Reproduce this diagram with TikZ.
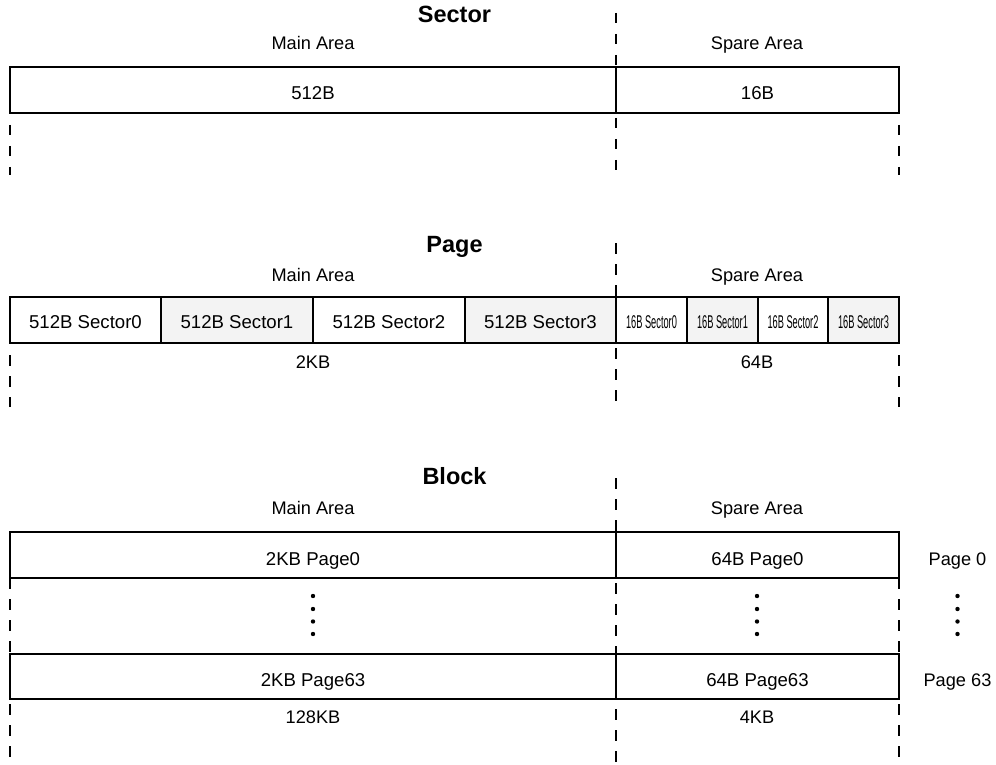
\documentclass[tikz,border=0pt]{standalone}
\usepackage{fontspec}
\usepackage{graphicx}
\setmainfont{Liberation Sans}
\definecolor{cellgray}{HTML}{F3F3F3}
\newcommand{\nrm}{\fontsize{18.2}{22}\selectfont}
\newcommand{\cellfont}{\fontsize{18.6}{22}\selectfont}
\newcommand{\ttl}{\fontsize{23.5}{28}\selectfont\bfseries}
\newcommand{\cnd}[1]{\scalebox{0.5}[1]{\fontsize{18.5}{20}\selectfont #1}}
\tikzset{
  cell/.style={draw=black, line width=2pt, inner sep=0pt, minimum height=46pt,
    text height=20pt, text depth=0pt, font=\cellfont, align=center},
  pcell/.style={cell, text height=16pt},
  graycell/.style={pcell, fill=cellgray},
  lbl/.style={anchor=base, inner sep=0pt, font=\nrm},
  title/.style={anchor=base, inner sep=0pt, font=\ttl},
  guide/.style={line width=2pt, dash pattern=on 10.5pt off 10.5pt},
  dotmark/.style={circle, fill=black, inner sep=0pt, minimum size=4.4pt}
}
\begin{document}
\begin{tikzpicture}[x=1pt,y=-1pt]
\useasboundingbox (0,0) rectangle (996,765);

% ---------- guide lines (behind boxes) ----------
\coordinate (s-ct) at (616,13);   \coordinate (s-cb) at (616,175);
\coordinate (s-lt) at (10,125);   \coordinate (s-lb) at (10,175);
\coordinate (s-rt) at (899,125);  \coordinate (s-rb) at (899,175);
\coordinate (p-ct) at (616,243);  \coordinate (p-cb) at (616,410);
\coordinate (p-lt) at (10,355);   \coordinate (p-lb) at (10,407);
\coordinate (p-rt) at (899,355);  \coordinate (p-rb) at (899,407);
\coordinate (b-ct) at (616,478);  \coordinate (b-cb) at (616,765);
\coordinate (b-lt) at (10,578);   \coordinate (b-lb) at (10,765);
\coordinate (b-rt) at (899,578);  \coordinate (b-rb) at (899,765);
\draw[guide] (s-ct) -- (s-cb);
\draw[guide] (s-lt) -- (s-lb);
\draw[guide] (s-rt) -- (s-rb);
\draw[guide] (p-ct) -- (p-cb);
\draw[guide] (p-lt) -- (p-lb);
\draw[guide] (p-rt) -- (p-rb);
\draw[guide] (b-ct) -- (b-cb);
\draw[guide] (b-lt) -- (b-lb);
\draw[guide] (b-rt) -- (b-rb);

% ---------- Sector ----------
\node[title] (s-title) at (454.5,23) {Sector};
\node[lbl] (s-main) at (313,50) {Main Area};
\node[lbl] (s-spare) at (757,50) {Spare Area};
\node[cell, minimum width=606pt] (s-m) at (313,90) {512B};
\node[cell, minimum width=283pt] (s-s) at (757.5,90) {16B};

% ---------- Page ----------
\node[title] (p-title) at (454.5,252) {Page};
\node[lbl] (p-main) at (313,281) {Main Area};
\node[lbl] (p-spare) at (757,281) {Spare Area};
\node[pcell, minimum width=151pt] (p-m0) at (85.5,320) {512B Sector0};
\node[graycell, minimum width=152pt] (p-m1) at (237,320) {512B Sector1};
\node[pcell, minimum width=152pt] (p-m2) at (389,320) {512B Sector2};
\node[graycell, minimum width=151pt] (p-m3) at (540.5,320) {512B Sector3};
\node[pcell, minimum width=71pt] (p-s0) at (651.5,320) {\cnd{16B Sector0}};
\node[graycell, minimum width=71pt] (p-s1) at (722.5,320) {\cnd{16B Sector1}};
\node[pcell, minimum width=70pt] (p-s2) at (793,320) {\cnd{16B Sector2}};
\node[graycell, minimum width=71pt] (p-s3) at (863.5,320) {\cnd{16B Sector3}};
\node[lbl] (p-msize) at (313,368) {2KB};
\node[lbl] (p-ssize) at (757,368) {64B};

% ---------- Block ----------
\node[title] (b-title) at (454.5,484) {Block};
\node[lbl] (b-main) at (313,514) {Main Area};
\node[lbl] (b-spare) at (757,514) {Spare Area};
\node[cell, minimum width=606pt] (b-m0) at (313,555) {2KB Page0};
\node[cell, minimum width=283pt] (b-s0) at (757.5,555) {64B Page0};
\node[cell, minimum width=606pt, minimum height=45pt] (b-m63) at (313,676.5) {2KB Page63};
\node[cell, minimum width=283pt, minimum height=45pt] (b-s63) at (757.5,676.5) {64B Page63};
\node[lbl] (b-pg0) at (957.5,565) {Page 0};
\node[lbl] (b-pg63) at (957.5,686) {Page 63};
\node[lbl] (b-msize) at (313,723) {128KB};
\node[lbl] (b-ssize) at (757,723) {4KB};

% dots
\foreach \x/\n in {313/m, 757/s, 957.5/p}{
  \node[dotmark] (dot-\n-1) at (\x,596) {};
  \node[dotmark] (dot-\n-2) at (\x,609) {};
  \node[dotmark] (dot-\n-3) at (\x,621.5) {};
  \node[dotmark] (dot-\n-4) at (\x,634) {};
}
\end{tikzpicture}
\end{document}
